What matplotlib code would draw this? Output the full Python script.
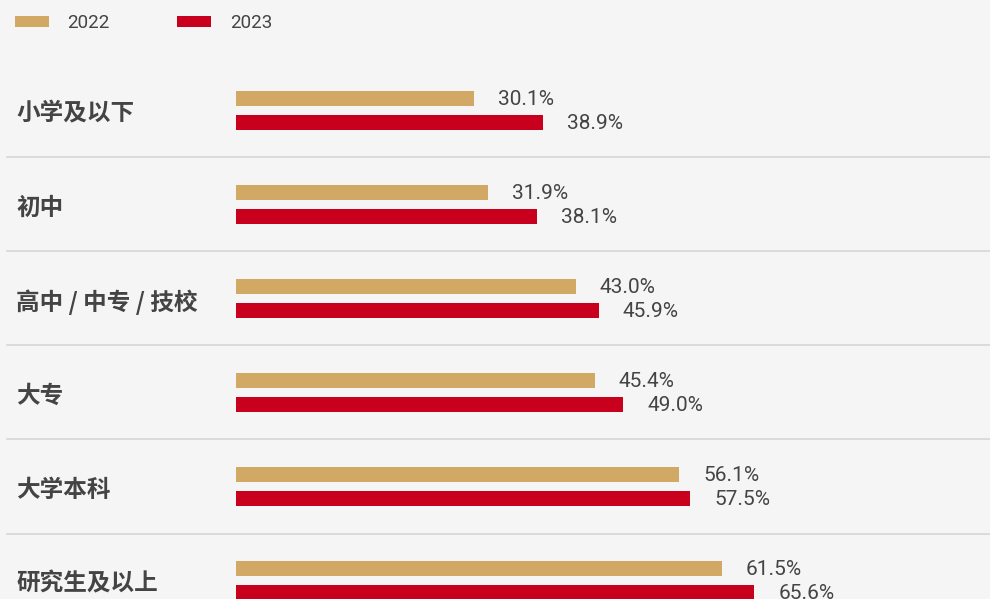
import matplotlib
matplotlib.use('Agg')
import matplotlib.pyplot as plt
from matplotlib.patches import Patch
import numpy as np

plt.rcParams['font.family'] = ['Noto Sans CJK SC', 'DejaVu Sans']

# education level vs share, two survey years
categories = ['小学及以下', '初中', '高中 / 中专 / 技校', '大专', '大学本科', '研究生及以上']
share_2022 = [30.1, 31.9, 43.0, 45.4, 56.1, 61.5]
share_2023 = [38.9, 38.1, 45.9, 49.0, 57.5, 65.6]
years = ['2022', '2023']

GOLD = '#d2a964'
RED = '#c8001e'
BG = '#f5f5f5'
TEXT = '#444444'
GRID = '#d4d4d4'

W, H = 990, 599
fig = plt.figure(figsize=(W / 100, H / 100), dpi=100, facecolor=BG)

# axes starts where the bars start; x in percent, y in row units
left_px = 236
px_per_pct = 7.9
pitch = 94.0
first_center = 110.5
ax = fig.add_axes([left_px / W, 0, 1 - left_px / W, 1])
ax.set_facecolor(BG)
ax.set_xlim(0, (W - left_px) / px_per_pct)
ax.set_ylim((H - first_center) / pitch, -first_center / pitch)
ax.axis('off')

rows = np.arange(len(categories))
off = 12 / pitch
bh = 15.5 / pitch
ax.barh(rows - off, share_2022, height=bh, color=GOLD, label=years[0])
ax.barh(rows + off, share_2023, height=bh, color=RED, label=years[1])

pad = 24 / px_per_pct
num_font = ['Roboto', 'DejaVu Sans']
for y, a, b in zip(rows, share_2022, share_2023):
    ax.text(a + pad, y - off + 0.01, f'{a:.1f}%', va='center', ha='left',
            fontsize=15, color=TEXT, family=num_font)
    ax.text(b + pad, y + off + 0.01, f'{b:.1f}%', va='center', ha='left',
            fontsize=15, color=TEXT, family=num_font)

# row labels sit in the left margin
trans = matplotlib.transforms.blended_transform_factory(fig.transFigure, ax.transData)
for y, name in zip(rows, categories):
    ax.text(16 / W, y + 0.035, name, transform=trans, va='center', ha='left',
            fontsize=17, fontweight='bold', color=TEXT, clip_on=False)

# thin separators between rows, running into the label margin
trans_sep = matplotlib.transforms.blended_transform_factory(ax.transAxes, ax.transData)
x0 = (7 - left_px) / (W - left_px)
for y in rows[:-1] + 0.5:
    ax.plot([x0, 1], [y, y], color=GRID, lw=1.1, transform=trans_sep, clip_on=False)

handles = [Patch(facecolor=GOLD, label=years[0]), Patch(facecolor=RED, label=years[1])]
fig.legend(handles=handles, loc='upper left', bbox_to_anchor=(15 / W, 1 - 14 / H),
           ncol=2, frameon=False, borderpad=0, borderaxespad=0,
           handlelength=1.8, handleheight=0.55, handletextpad=1.0,
           columnspacing=3.6, prop={'family': 'Roboto', 'size': 13.5},
           labelcolor=TEXT)

fig.savefig('out.png', dpi=100, facecolor=BG)
